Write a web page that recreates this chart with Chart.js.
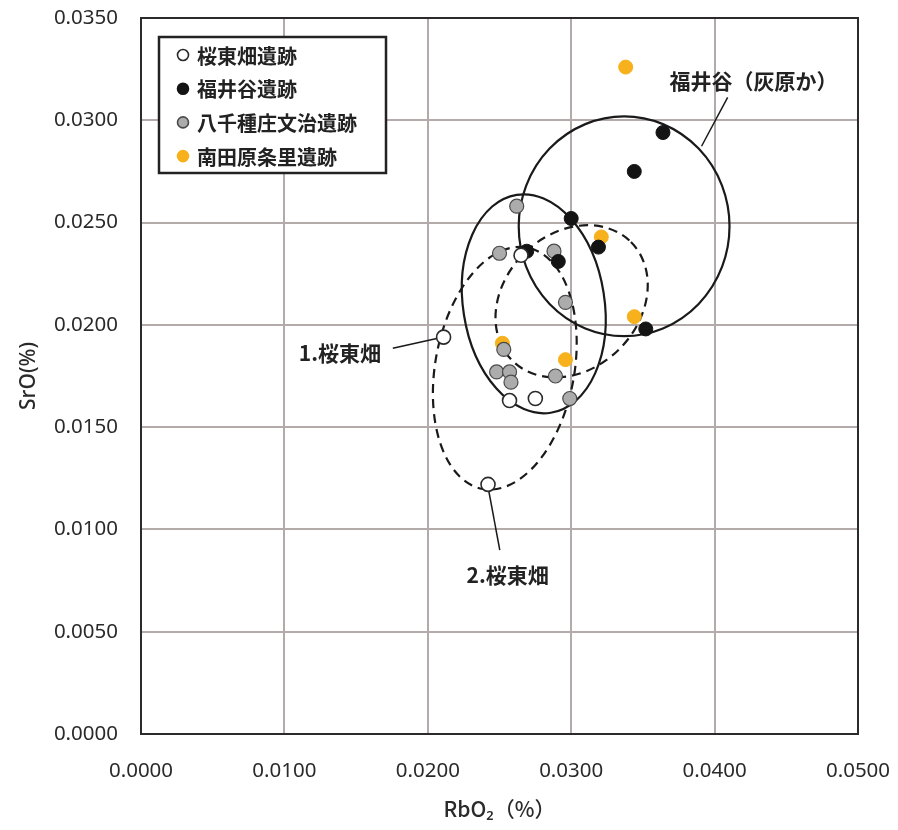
<!DOCTYPE html>
<html>
<head>
<meta charset="utf-8">
<script src="https://cdn.jsdelivr.net/npm/chart.js@4/dist/chart.umd.min.js"></script>
<style>
html,body{margin:0;padding:0;background:#fff;}
#wrap{width:898px;height:830px;}
</style>
</head>
<body>
<div id="wrap"><canvas id="c" width="898" height="830"></canvas></div>
<script>
// ---- data (RbO2 %, SrO %) ----
const seriesNames = ["桜東畑遺跡", "福井谷遺跡", "八千種庄文治遺跡", "南田原条里遺跡"];
const sakuraRb = [0.0211, 0.0265, 0.0257, 0.0275, 0.0242];
const sakuraSr = [0.0194, 0.0234, 0.0163, 0.0164, 0.0122];
const fukuiRb = [0.0300, 0.0269, 0.0291, 0.0319, 0.0352, 0.0364, 0.0344];
const fukuiSr = [0.0252, 0.0236, 0.0231, 0.0238, 0.0198, 0.0294, 0.0275];
const yachikusaRb = [0.0262, 0.0250, 0.0288, 0.0296, 0.0253, 0.0248, 0.0257, 0.0258, 0.0289, 0.0299];
const yachikusaSr = [0.0258, 0.0235, 0.0236, 0.0211, 0.0188, 0.0177, 0.0177, 0.0172, 0.0175, 0.0164];
const minamiRb = [0.0338, 0.0321, 0.0344, 0.0252, 0.0296];
const minamiSr = [0.0326, 0.0243, 0.0204, 0.0191, 0.0183];
const xTicks = [0, 0.01, 0.02, 0.03, 0.04, 0.05];
const yTicks = [0, 0.005, 0.01, 0.015, 0.02, 0.025, 0.03, 0.035];

// group ellipses: center (Rb, Sr), semi-axes (Rb units, Sr units), tilt in degrees
const ellipseCx = [0.02739, 0.03369, 0.03003, 0.02537];
const ellipseCy = [0.02103, 0.02482, 0.02115, 0.01788];
const ellipseRx = [0.00493, 0.00735, 0.00585, 0.00485];
const ellipseRy = [0.00539, 0.00537, 0.00330, 0.00600];
const ellipseTilt = [-8.9, 0, -45, 10.4];
const ellipseDashed = [false, false, true, true];

// callout labels: text, label centre (Rb, Sr), leader line from/to (Rb, Sr)
const calloutText = ["福井谷（灰原か）", "1.桜東畑", "2.桜東畑"];
const calloutX = [0.04272, 0.01387, 0.02557];
const calloutY = [0.03190, 0.01861, 0.00777];
const leaderX1 = [0.04091, 0.01756, 0.02418];
const leaderY1 = [0.03112, 0.01886, 0.01216];
const leaderX2 = [0.03909, 0.02070, 0.02502];
const leaderY2 = [0.02873, 0.01935, 0.00899];

const toPts = (xs, ys) => xs.map((x, i) => ({x: x, y: ys[i]}));

const styles = [
  {bg: "#ffffff", bd: "#2a2a2a", bw: 1.6},
  {bg: "#141414", bd: "#141414", bw: 1},
  {bg: "#acacac", bd: "#4a4a4a", bw: 1.2},
  {bg: "#f6b11c", bd: "#f6b11c", bw: 1}
];
const seriesData = [
  toPts(sakuraRb, sakuraSr),
  toPts(fukuiRb, fukuiSr),
  toPts(yachikusaRb, yachikusaSr),
  toPts(minamiRb, minamiSr)
];

const tickFont = {family: "'Noto Sans', sans-serif", size: 20.5};
const cjkFont = "'Noto Sans CJK JP', 'Noto Sans', sans-serif";

const zeroPad = s => { s.paddingTop = 0; s.paddingBottom = 0; s.paddingLeft = 0; s.paddingRight = 0; };

const ellipsePlugin = {
  id: "ellipses",
  beforeDatasetsDraw(chart) {
    const {ctx, scales: {x, y}} = chart;
    ctx.save();
    ctx.strokeStyle = "#1a1a1a";
    ctx.lineWidth = 2.2;
    for (let i = 0; i < ellipseCx.length; i++) {
      const cx = x.getPixelForValue(ellipseCx[i]);
      const cy = y.getPixelForValue(ellipseCy[i]);
      const rx = x.getPixelForValue(ellipseCx[i] + ellipseRx[i]) - cx;
      const ry = cy - y.getPixelForValue(ellipseCy[i] + ellipseRy[i]);
      ctx.setLineDash(ellipseDashed[i] ? [9, 6] : []);
      ctx.beginPath();
      ctx.ellipse(cx, cy, rx, ry, ellipseTilt[i] * Math.PI / 180, 0, Math.PI * 2);
      ctx.stroke();
    }
    ctx.setLineDash([]);
    ctx.lineWidth = 1.5;
    for (let i = 0; i < calloutText.length; i++) {
      ctx.beginPath();
      ctx.moveTo(x.getPixelForValue(leaderX1[i]), y.getPixelForValue(leaderY1[i]));
      ctx.lineTo(x.getPixelForValue(leaderX2[i]), y.getPixelForValue(leaderY2[i]));
      ctx.stroke();
    }
    ctx.restore();
  },
  afterDatasetsDraw(chart) {
    const {ctx, scales: {x, y}, chartArea: a} = chart;
    ctx.save();
    ctx.strokeStyle = "#2b2b2b";
    ctx.lineWidth = 2;
    ctx.strokeRect(a.left, a.top, a.right - a.left, a.bottom - a.top);
    ctx.fillStyle = "#222";
    ctx.font = "bold 21px " + cjkFont;
    ctx.textAlign = "center";
    ctx.textBaseline = "middle";
    for (let i = 0; i < calloutText.length; i++) {
      ctx.fillText(calloutText[i], x.getPixelForValue(calloutX[i]), y.getPixelForValue(calloutY[i]));
    }
    const lx = a.left + 18, ly = a.top + 19, lw = 227, lh = 136;
    ctx.fillStyle = "#fff";
    ctx.fillRect(lx, ly, lw, lh);
    ctx.strokeStyle = "#222";
    ctx.lineWidth = 2.5;
    ctx.strokeRect(lx, ly, lw, lh);
    ctx.font = "bold 20px " + cjkFont;
    ctx.textAlign = "left";
    for (let i = 0; i < seriesNames.length; i++) {
      const ry = ly + 18 + i * 33.7;
      ctx.beginPath();
      ctx.arc(lx + 24, ry, 5.5, 0, Math.PI * 2);
      ctx.fillStyle = styles[i].bg;
      ctx.fill();
      ctx.lineWidth = 1.6;
      ctx.strokeStyle = styles[i].bd;
      ctx.stroke();
      ctx.fillStyle = "#222";
      ctx.fillText(seriesNames[i], lx + 38, ry + 1);
    }
    ctx.restore();
  }
};

new Chart(document.getElementById("c"), {
  type: "scatter",
  data: {
    datasets: seriesNames.map((n, i) => ({
      label: n,
      data: seriesData[i],
      backgroundColor: styles[i].bg,
      borderColor: styles[i].bd,
      borderWidth: styles[i].bw,
      pointRadius: 7,
      pointHoverRadius: 7
    }))
  },
  options: {
    responsive: false,
    animation: false,
    layout: {padding: {top: 18, right: 40, left: 0, bottom: 0}},
    plugins: {legend: {display: false}, tooltip: {enabled: false}},
    scales: {
      x: {
        type: "linear", min: 0, max: 0.05,
        afterBuildTicks: s => { s.ticks = xTicks.map(v => ({value: v})); },
        afterFit: s => { s.height = 96; zeroPad(s); },
        ticks: {font: tickFont, color: "#2a2a2a", padding: 25, callback: v => Number(v).toFixed(4)},
        grid: {color: "#b3aaaa", lineWidth: 2, drawTicks: false},
        border: {display: false},
        title: {display: true, text: "RbO₂（%）", font: {family: cjkFont, size: 21, weight: "500"}, color: "#2a2a2a", padding: {top: 0, bottom: 8}}
      },
      y: {
        type: "linear", min: 0, max: 0.035,
        afterBuildTicks: s => { s.ticks = yTicks.map(v => ({value: v})); },
        afterFit: s => { s.width = 141; zeroPad(s); },
        ticks: {font: tickFont, color: "#2a2a2a", padding: 23, callback: v => Number(v).toFixed(4)},
        grid: {color: "#b3aaaa", lineWidth: 2, drawTicks: false},
        border: {display: false},
        title: {display: true, text: "SrO(%)", font: {family: "'Noto Sans', sans-serif", size: 21, weight: "500"}, color: "#2a2a2a", padding: {top: 16, bottom: 0}}
      }
    }
  },
  plugins: [ellipsePlugin]
});
</script>
</body>
</html>
